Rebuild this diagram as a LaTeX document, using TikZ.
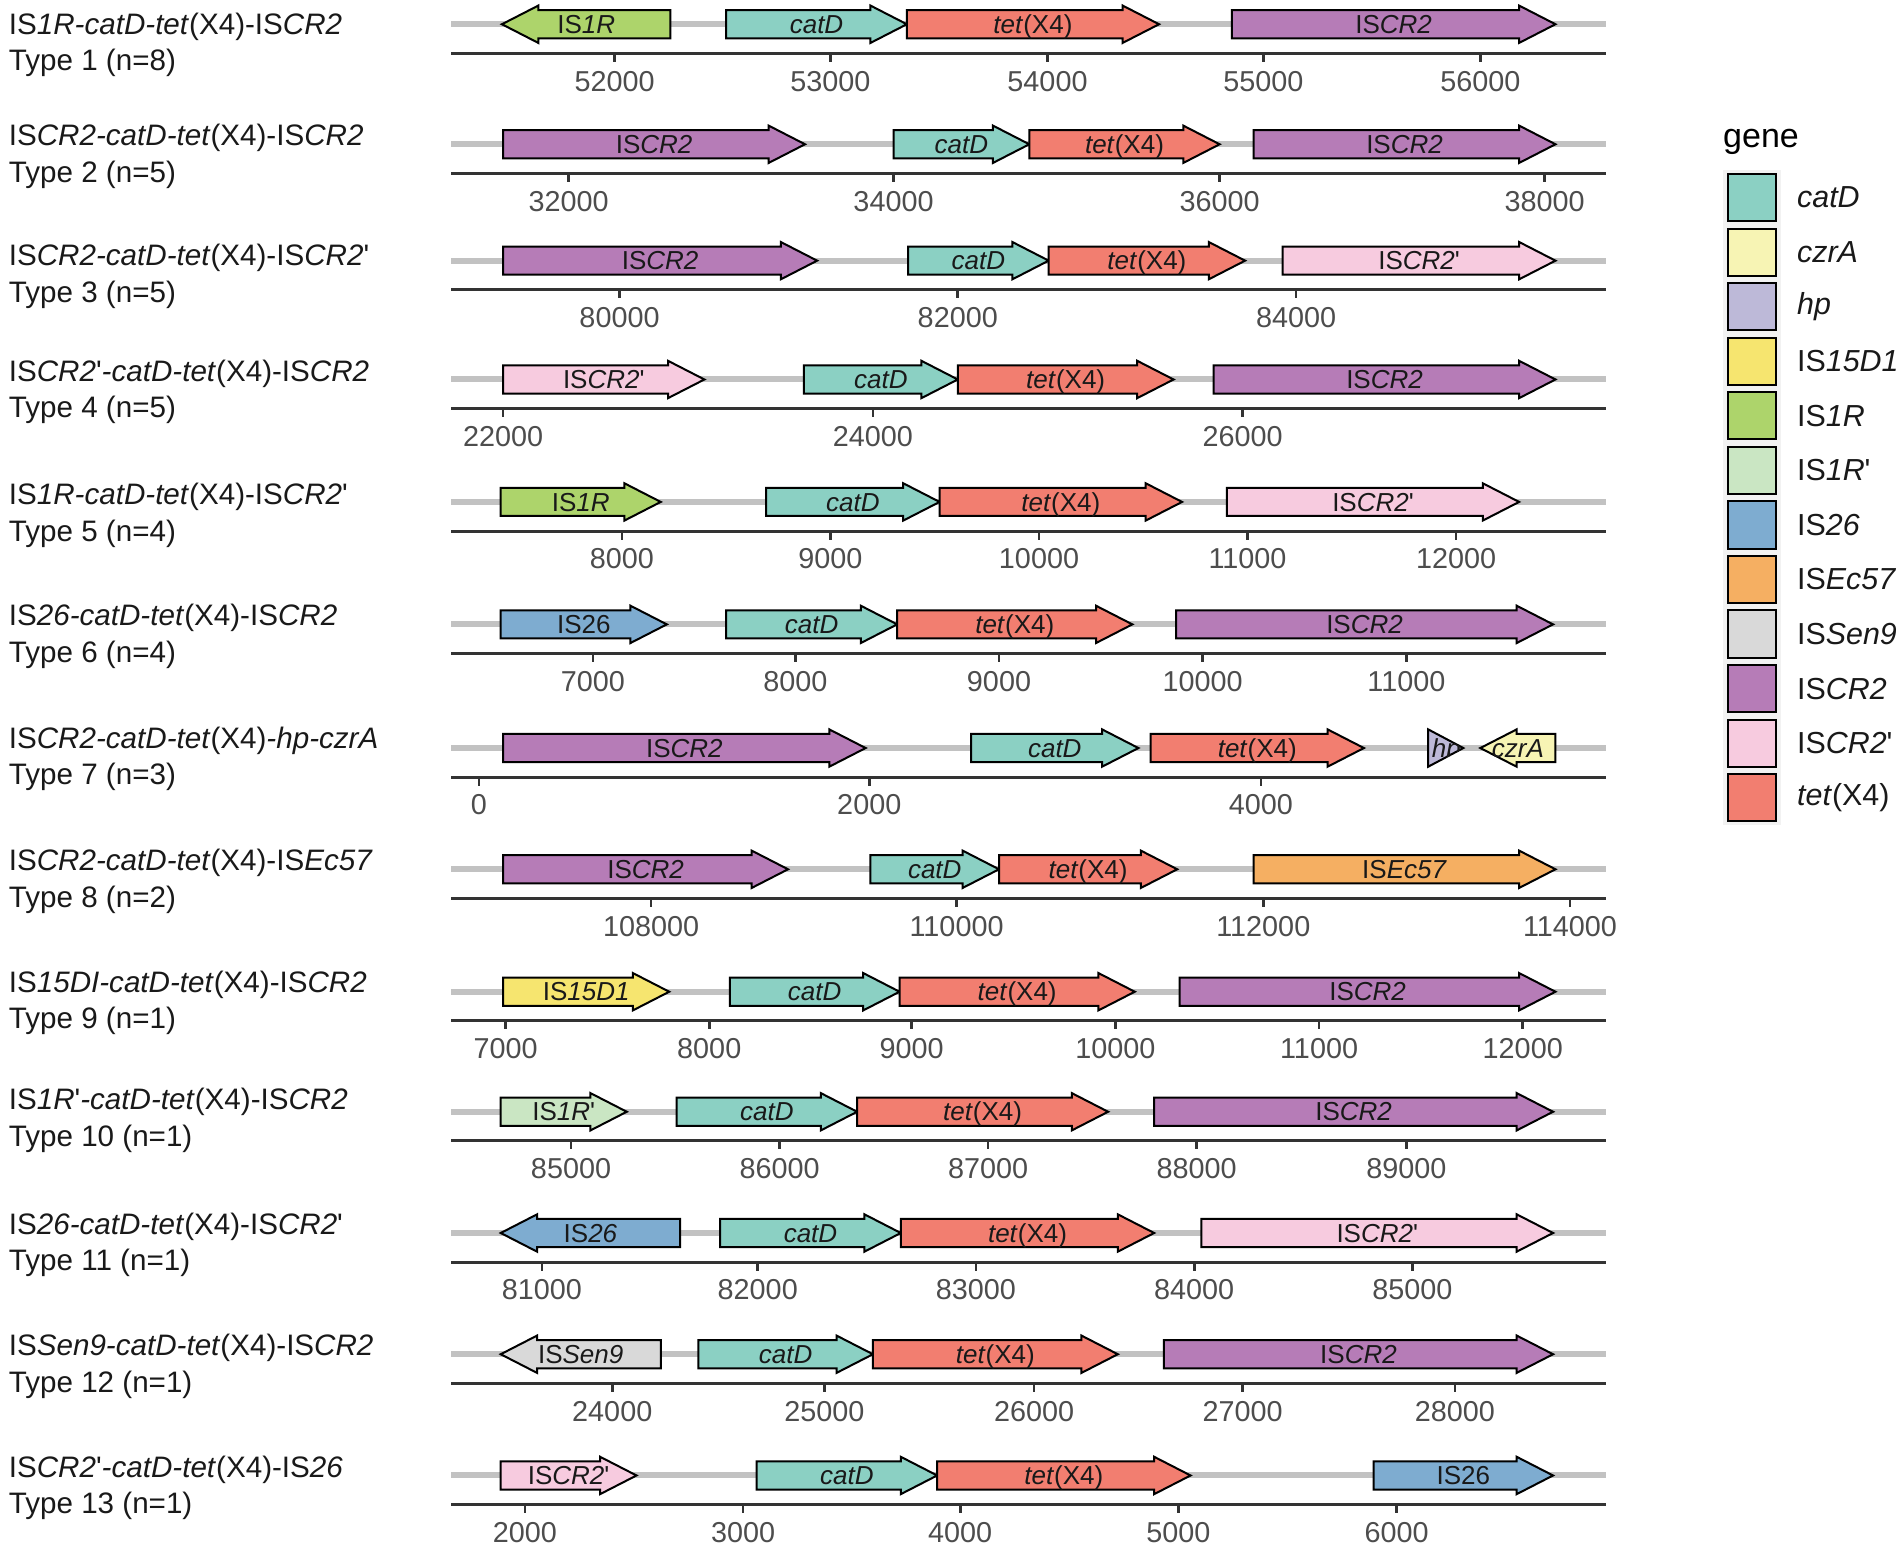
\documentclass[tikz,border=0pt]{standalone}
\usepackage{fontspec}
\setmainfont{Liberation Sans}
\usepackage{tikz}
\usetikzlibrary{calc}

\definecolor{ccatD}{HTML}{8BD0C3}
\definecolor{cczrA}{HTML}{F7F4B4}
\definecolor{chp}{HTML}{BDB9D8}
\definecolor{cISfifteen}{HTML}{F6E56F}
\definecolor{cISoneR}{HTML}{ADD46B}
\definecolor{cISoneRp}{HTML}{CAE6C3}
\definecolor{cIStwentysix}{HTML}{7EACD0}
\definecolor{cISEc}{HTML}{F5AF62}
\definecolor{cISSen}{HTML}{D9D9D9}
\definecolor{cISCR}{HTML}{B67CB7}
\definecolor{cISCRp}{HTML}{F7CBDF}
\definecolor{ctet}{HTML}{F27E70}
\definecolor{trackgray}{HTML}{C2C2C2}
\definecolor{axisdark}{HTML}{333333}
\definecolor{tickgray}{HTML}{4D4D4D}
\definecolor{keybg}{HTML}{F2F2F2}

\newcommand{\apo}{\textquotesingle}

\tikzset{
  backbone/.style={draw=trackgray, line width=3pt},
  axisline/.style={draw=axisdark, line width=1.5pt},
  tickmark/.style={draw=axisdark, line width=1.3pt},
  genebox/.style={draw=black, line width=1pt, line join=miter},
  genelabel/.style={font=\fontsize{13}{15}\selectfont, inner sep=0pt, anchor=base, text=black!90},
  ticklabel/.style={font=\fontsize{14.4}{16}\selectfont, inner sep=0pt, text=tickgray},
  typelabel/.style={font=\fontsize{14.8}{17}\selectfont, anchor=west, inner sep=0pt, text=black!90},
  legendtext/.style={font=\fontsize{15.2}{18}\selectfont, anchor=west, inner sep=0pt, text=black!90}
}

% gene pointing right: name, from, to, y, colour, label
\newcommand{\gene}[6]{%
  \pgfmathsetmacro\hx{max(#2,#3-30)}
  \filldraw[genebox, fill=#5] ({#2},{#4-11.6}) -- (\hx,{#4-11.6}) -- (\hx,{#4-15.4})
    -- ({#3},{#4}) -- (\hx,{#4+15.4}) -- (\hx,{#4+11.6}) -- ({#2},{#4+11.6}) -- cycle;
  \node[genelabel] (#1) at ({(#2+#3)/2},{#4+7.6}) {#6};
}
% gene pointing left: name, tip, end, y, colour, label
\newcommand{\geneleft}[6]{%
  \pgfmathsetmacro\hx{min(#3,#2+30)}
  \filldraw[genebox, fill=#5] ({#3},{#4-11.6}) -- (\hx,{#4-11.6}) -- (\hx,{#4-15.4})
    -- ({#2},{#4}) -- (\hx,{#4+15.4}) -- (\hx,{#4+11.6}) -- ({#3},{#4+11.6}) -- cycle;
  \node[genelabel] (#1) at ({(#2+#3)/2},{#4+7.6}) {#6};
}
% track: name, y, label y, first line, second line, ticks
\newcommand{\track}[6]{%
  \draw[backbone] (372,{#2}) -- (1325,{#2});
  \draw[axisline] (372,{#2+24}) -- (1325,{#2+24});
  \foreach \tx/\tl in {#6} {
    \draw[tickmark] (\tx,{#2+24}) -- (\tx,{#2+31});
    \node[ticklabel] (#1t\tl) at (\tx,{#2+47}) {\tl};
  }
  \node[typelabel] (#1a) at (7,{#3}) {#4};
  \node[typelabel] (#1b) at (7,{#3+30}) {#5};
}

\begin{document}
\begin{tikzpicture}[x=0.6062pt, y=-0.6062pt]
  \useasboundingbox (0,0) rectangle (1568,1278);

  \track{r1}{20}{22}{IS\textit{1R-catD-tet}(X4)-IS\textit{CR2}}{Type 1 (n=8)}
    {507/52000, 685/53000, 864/54000, 1042/55000, 1221/56000}
  \geneleft{r1g1}{414}{553}{20}{cISoneR}{IS\textit{1R}}
  \gene{r1g2}{599}{748}{20}{ccatD}{\textit{catD}}
  \gene{r1g3}{748}{956}{20}{ctet}{\textit{tet}(X4)}
  \gene{r1g4}{1016}{1283}{20}{cISCR}{IS\textit{CR2}}

  \track{r2}{119}{114}{IS\textit{CR2-catD-tet}(X4)-IS\textit{CR2}}{Type 2 (n=5)}
    {469/32000, 737/34000, 1006/36000, 1274/38000}
  \gene{r2g1}{415}{664}{119}{cISCR}{IS\textit{CR2}}
  \gene{r2g2}{737}{849}{119}{ccatD}{\textit{catD}}
  \gene{r2g3}{849}{1006}{119}{ctet}{\textit{tet}(X4)}
  \gene{r2g4}{1034}{1283}{119}{cISCR}{IS\textit{CR2}}

  \track{r3}{215}{213}{IS\textit{CR2-catD-tet}(X4)-IS\textit{CR2}\apo}{Type 3 (n=5)}
    {511/80000, 790/82000, 1069/84000}
  \gene{r3g1}{415}{674}{215}{cISCR}{IS\textit{CR2}}
  \gene{r3g2}{749}{865}{215}{ccatD}{\textit{catD}}
  \gene{r3g3}{865}{1027}{215}{ctet}{\textit{tet}(X4)}
  \gene{r3g4}{1058}{1283}{215}{cISCRp}{IS\textit{CR2}\apo}

  \track{r4}{313}{308}{IS\textit{CR2}\apo\textit{-catD-tet}(X4)-IS\textit{CR2}}{Type 4 (n=5)}
    {415/22000, 720/24000, 1025/26000}
  \gene{r4g1}{415}{581}{313}{cISCRp}{IS\textit{CR2}\apo}
  \gene{r4g2}{663}{790}{313}{ccatD}{\textit{catD}}
  \gene{r4g3}{790}{968}{313}{ctet}{\textit{tet}(X4)}
  \gene{r4g4}{1001}{1283}{313}{cISCR}{IS\textit{CR2}}

  \track{r5}{414}{410}{IS\textit{1R-catD-tet}(X4)-IS\textit{CR2}\apo}{Type 5 (n=4)}
    {513/8000, 685/9000, 857/10000, 1029/11000, 1201/12000}
  \gene{r5g1}{413}{545}{414}{cISoneR}{IS\textit{1R}}
  \gene{r5g2}{632}{775}{414}{ccatD}{\textit{catD}}
  \gene{r5g3}{775}{975}{414}{ctet}{\textit{tet}(X4)}
  \gene{r5g4}{1012}{1253}{414}{cISCRp}{IS\textit{CR2}\apo}

  \track{r6}{515}{510}{IS\textit{26-catD-tet}(X4)-IS\textit{CR2}}{Type 6 (n=4)}
    {489/7000, 656/8000, 824/9000, 992/10000, 1160/11000}
  \gene{r6g1}{413}{550}{515}{cIStwentysix}{IS26}
  \gene{r6g2}{599}{740}{515}{ccatD}{\textit{catD}}
  \gene{r6g3}{740}{934}{515}{ctet}{\textit{tet}(X4)}
  \gene{r6g4}{970}{1281}{515}{cISCR}{IS\textit{CR2}}

  \track{r7}{617}{611}{IS\textit{CR2-catD-tet}(X4)\textit{-hp-czrA}}{Type 7 (n=3)}
    {395/0, 717/2000, 1040/4000}
  \gene{r7g1}{415}{714}{617}{cISCR}{IS\textit{CR2}}
  \gene{r7g2}{801}{939}{617}{ccatD}{\textit{catD}}
  \gene{r7g3}{949}{1125}{617}{ctet}{\textit{tet}(X4)}
  \gene{r7g4}{1178}{1207}{617}{chp}{}
  \begin{scope}
    \clip (1178,601.6) -- (1207,617) -- (1178,632.4) -- cycle;
    \node[genelabel] (r7hp) at (1193,624.6) {\textit{hp}};
  \end{scope}
  \geneleft{r7g5}{1221}{1283}{617}{cczrA}{\textit{czrA}}

  \track{r8}{717}{712}{IS\textit{CR2-catD-tet}(X4)-IS\textit{Ec57}}{Type 8 (n=2)}
    {537/108000, 789/110000, 1042/112000, 1295/114000}
  \gene{r8g1}{415}{650}{717}{cISCR}{IS\textit{CR2}}
  \gene{r8g2}{718}{824}{717}{ccatD}{\textit{catD}}
  \gene{r8g3}{824}{971}{717}{ctet}{\textit{tet}(X4)}
  \gene{r8g4}{1034}{1283}{717}{cISEc}{IS\textit{Ec57}}

  \track{r9}{818}{812}{IS\textit{15DI-catD-tet}(X4)-IS\textit{CR2}}{Type 9 (n=1)}
    {417/7000, 585/8000, 752/9000, 920/10000, 1088/11000, 1256/12000}
  \gene{r9g1}{415}{552}{818}{cISfifteen}{IS\textit{15D1}}
  \gene{r9g2}{602}{742}{818}{ccatD}{\textit{catD}}
  \gene{r9g3}{742}{936}{818}{ctet}{\textit{tet}(X4)}
  \gene{r9g4}{973}{1283}{818}{cISCR}{IS\textit{CR2}}

  \track{r10}{917}{909}{IS\textit{1R}\apo\textit{-catD-tet}(X4)-IS\textit{CR2}}{Type 10 (n=1)}
    {471/85000, 643/86000, 815/87000, 987/88000, 1160/89000}
  \gene{r10g1}{413}{517}{917}{cISoneRp}{IS\textit{1R}\apo}
  \gene{r10g2}{558}{707}{917}{ccatD}{\textit{catD}}
  \gene{r10g3}{707}{914}{917}{ctet}{\textit{tet}(X4)}
  \gene{r10g4}{952}{1281}{917}{cISCR}{IS\textit{CR2}}

  \track{r11}{1017}{1012}{IS\textit{26-catD-tet}(X4)-IS\textit{CR2}\apo}{Type 11 (n=1)}
    {447/81000, 625/82000, 805/83000, 985/84000, 1165/85000}
  \geneleft{r11g1}{413}{561}{1017}{cIStwentysix}{IS\textit{26}}
  \gene{r11g2}{594}{743}{1017}{ccatD}{\textit{catD}}
  \gene{r11g3}{743}{952}{1017}{ctet}{\textit{tet}(X4)}
  \gene{r11g4}{991}{1281}{1017}{cISCRp}{IS\textit{CR2}\apo}

  \track{r12}{1117}{1112}{IS\textit{Sen9-catD-tet}(X4)-IS\textit{CR2}}{Type 12 (n=1)}
    {505/24000, 680/25000, 853/26000, 1025/27000, 1200/28000}
  \geneleft{r12g1}{413}{545}{1117}{cISSen}{IS\textit{Sen9}}
  \gene{r12g2}{576}{720}{1117}{ccatD}{\textit{catD}}
  \gene{r12g3}{720}{922}{1117}{ctet}{\textit{tet}(X4)}
  \gene{r12g4}{960}{1281}{1117}{cISCR}{IS\textit{CR2}}

  \track{r13}{1217}{1212}{IS\textit{CR2}\apo\textit{-catD-tet}(X4)-IS\textit{26}}{Type 13 (n=1)}
    {433/2000, 613/3000, 792/4000, 972/5000, 1152/6000}
  \gene{r13g1}{413}{525}{1217}{cISCRp}{IS\textit{CR2}\apo}
  \gene{r13g2}{624}{773}{1217}{ccatD}{\textit{catD}}
  \gene{r13g3}{773}{982}{1217}{ctet}{\textit{tet}(X4)}
  \gene{r13g4}{1133}{1281}{1217}{cIStwentysix}{IS26}

  % legend
  \node[anchor=west, inner sep=0pt, font=\fontsize{17}{20}\selectfont] (legtitle) at (1421,117) {gene};
  \foreach \gc/\gt [count=\i from 0] in {ccatD/\textit{catD}, cczrA/\textit{czrA}, chp/\textit{hp},
      cISfifteen/IS\textit{15D1}, cISoneR/IS\textit{1R}, cISoneRp/IS\textit{1R}\apo,
      cIStwentysix/IS\textit{26}, cISEc/IS\textit{Ec57}, cISSen/IS\textit{Sen9},
      cISCR/IS\textit{CR2}, cISCRp/IS\textit{CR2}\apo, ctet/\textit{tet}(X4)} {
    \pgfmathsetmacro\ky{163+45*\i}
    \fill[keybg] (1421,{\ky-22.5}) rectangle (1469,{\ky+22.5});
    \filldraw[genebox, fill=\gc] (1425,{\ky-19.5}) rectangle (1465,{\ky+19.5});
    \node[legendtext] (key\i) at (1482,\ky) {\gt};
  }
\end{tikzpicture}
\end{document}
